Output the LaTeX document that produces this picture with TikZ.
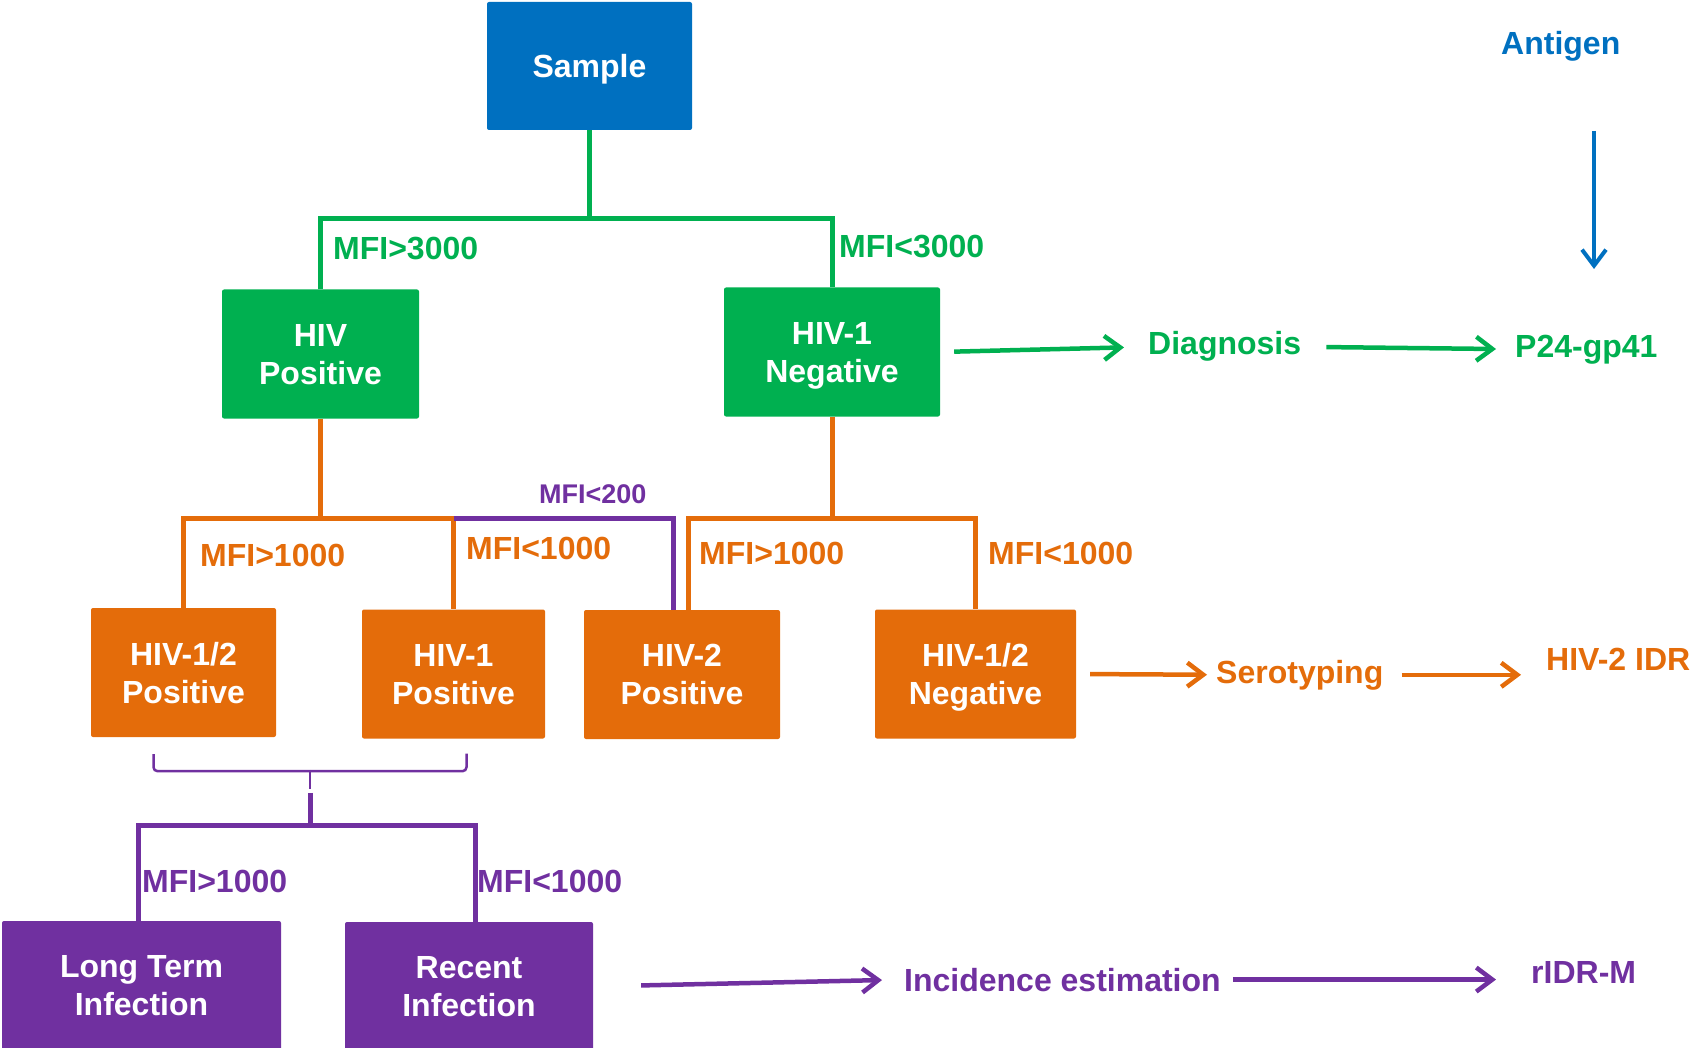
\documentclass[tikz,border=0pt]{standalone}
\usepackage{fontspec}
\setmainfont{Liberation Sans}
\usetikzlibrary{positioning}
\usetikzlibrary{arrows.meta}
\usetikzlibrary{calc}
\definecolor{sblue}{HTML}{0070C0}
\definecolor{sgreen}{HTML}{00B050}
\definecolor{sorange}{HTML}{E46C0A}
\definecolor{spurple}{HTML}{7030A0}
\tikzstyle{box}=[rectangle,rounded corners=2pt,text=white,align=center,inner sep=0pt,text depth=0pt,minimum height=129pt,font=\bfseries\fontsize{32}{38}\selectfont]
\tikzstyle{bluebox}=[box,fill=sblue]
\tikzstyle{greenbox}=[box,fill=sgreen]
\tikzstyle{orangebox}=[box,fill=sorange]
\tikzstyle{purplebox}=[box,fill=spurple]
\tikzstyle{greenedge} = [draw,line width=5pt,sgreen]
\tikzstyle{orangeedge} = [draw,line width=5pt,sorange]
\tikzstyle{purpleedge} = [draw,line width=5pt,spurple]
\tikzstyle{bracket} = [draw,line width=2.5pt,spurple,rounded corners=4pt]
\tikzstyle{tip} = [line width=4.5pt,-{Straight Barb[length=16pt,width=24pt]}]
\tikzstyle{mfi} = [anchor=base west,inner sep=0pt,font=\bfseries\fontsize{32}{38}\selectfont]
\tikzstyle{result} = [anchor=base west,inner sep=0pt,font=\bfseries\fontsize{32}{38}\selectfont]

\begin{document}
\begin{tikzpicture}[x=1pt,y=-1pt]
    \useasboundingbox (0,0) rectangle (1691,1048);
    \clip (0,0) rectangle (1691,1048);

    % First we draw the boxes
    \node[bluebox,minimum width=205pt,minimum height=128pt] (sample) at (589.5,66) {Sample};
    \foreach \pos/\name/\w/\label in {{(320.5,354)/hivpos/197/{HIV\\Positive}}, {(832,352)/hivneg/216/{HIV-1\\Negative}}}
        \node[greenbox,minimum width=\w pt] (\name) at \pos {\label};
    \foreach \pos/\name/\w/\label in {{(183.5,672.5)/pos12/185/{HIV-1/2\\Positive}}, {(453.5,674)/pos1/183/{HIV-1\\Positive}}, {(682,674.5)/pos2/196/{HIV-2\\Positive}}, {(975.5,674)/neg12/201/{HIV-1/2\\Negative}}}
        \node[orangebox,minimum width=\w pt] (\name) at \pos {\label};
    \foreach \pos/\name/\w/\label in {{(141.5,985.5)/longterm/279/{Long Term\\Infection}}, {(469,986.5)/recent/248/{Recent\\Infection}}}
        \node[purplebox,minimum width=\w pt] (\name) at \pos {\label};

    % Then the results on the right
    \node[result,text=sblue] (antigen) at (1501,55) {Antigen};
    \foreach \pos/\name/\col/\label in {{(1148,355)/diag/sgreen/Diagnosis}, {(1515,357)/p24/sgreen/P24-gp41}, {(1216,683)/sero/sorange/Serotyping}, {(1546,670)/idr/sorange/HIV-2 IDR}, {(904,991)/incid/spurple/Incidence estimation}, {(1531,983)/ridr/spurple/rIDR-M}}
        \node[result,text=\col] (\name) at \pos {\label};

    % Green split
    \draw[greenedge] (sample.south) -- ++(0,88) coordinate (gsplit);
    \draw[greenedge] (hivpos) |- (gsplit) -| (hivneg);
    \node[mfi,text=sgreen] (g1) at (333,260) {MFI>3000};
    \node[mfi,text=sgreen] (g2) at (839,258) {MFI<3000};

    % Orange splits
    \draw[orangeedge] (hivpos.south) -- ++(0,100) coordinate (osplitl);
    \draw[orangeedge] (pos12) |- (osplitl) -| (pos1);
    \draw[purpleedge] (pos1 |- osplitl) -| ($(pos2.north)+(-9,0)$);
    \draw[orangeedge] (hivneg.south) -- ++(0,102) coordinate (osplitr);
    \draw[orangeedge] ($(pos2.north)+(6,0)$) |- (osplitr) -| (neg12);
    \foreach \pos/\name/\label in {{(200,566)/o1/MFI>1000}, {(466,559)/o2/MFI<1000}, {(699,564)/o3/MFI>1000}, {(988,564)/o4/MFI<1000}}
        \node[mfi,text=sorange] (\name) at \pos {\label};
    \node[mfi,text=spurple,font=\bfseries\fontsize{27}{32}\selectfont] (p0) at (539,503) {MFI<200};

    % Purple split under the bracket
    \coordinate (brl) at ($(pos12.south)+(-30,17)$);
    \coordinate (brr) at ($(pos1.south)+(13,15)$);
    \draw[bracket] (brl) -- ++(0,17) -| (brr);
    \draw[bracket] ($(brl)!0.5!(brr)+(0,16)$) -- ++(0,19);
    \draw[purpleedge] ($(brl)!0.5!(brr)+(0,39)$) -- ++(0,33) coordinate (psplit);
    \draw[purpleedge] ($(longterm.north)+(-3,0)$) |- (psplit) -| ($(recent.north)+(6,0)$);
    \node[mfi,text=spurple] (p1) at (142,892) {MFI>1000};
    \node[mfi,text=spurple] (p2) at (477,892) {MFI<1000};

    % Arrows
    \coordinate (agtop) at (1594,131);
    \coordinate (agbot) at (1594,269);
    \draw[sblue,tip,line width=4pt] (agtop) -- (agbot);
    \draw[sgreen,tip,shorten <=14pt,shorten >=24pt] (hivneg.east) -- (diag.west);
    \draw[sgreen,tip,shorten <=25pt,shorten >=19pt] (diag.east) -- (p24.west);
    \draw[sorange,tip,shorten <=14pt,shorten >=9pt] (neg12.east) -- (sero.west);
    \draw[sorange,tip,shorten <=18pt,shorten >=25pt] (sero.east) -- (sero.east -| idr.west);
    \draw[spurple,tip,shorten <=48pt,shorten >=22pt] (recent.east) -- (incid.west);
    \draw[spurple,tip,shorten <=12pt,shorten >=35pt] (incid.east) -- (incid.east -| ridr.west);

\end{tikzpicture}
\end{document}
